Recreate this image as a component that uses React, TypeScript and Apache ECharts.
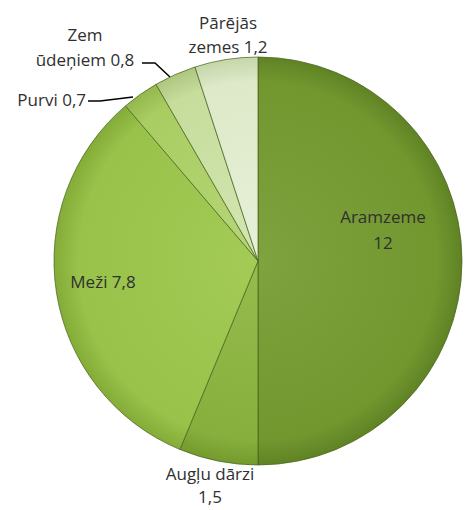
import React, { useEffect, useRef } from "react";
import * as echarts from "echarts";

const categories = ["Aramzeme", "Augļu dārzi", "Meži", "Purvi", "Zem ūdeņiem", "Pārējās zemes"];
const values = [12, 1.5, 7.8, 0.7, 0.8, 1.2];
const labelTexts = ["Aramzeme\n12", "Augļu dārzi\n1,5", "Meži 7,8", "Purvi 0,7", "Zem\nūdeņiem 0,8", "Pārējās\nzemes 1,2"];

const colors = [
  ["#7ea33f", "#72972f", "#5f8324"],
  ["#95bc4c", "#87af3e", "#739a2c"],
  ["#a3cb56", "#98c24a", "#84ac38"],
  ["#b6d678", "#a9cd62", "#94b84c"],
  ["#d3e6b2", "#c6dd9c", "#adc67f"],
  ["#e8f1da", "#dde9c8", "#c6d6aa"],
];

const CX = 258;
const CY = 261;
const R = 204;

const labelPos: any[] = [
  { x: 383, y: 229, align: "center", lh: 26 },
  { x: 210, y: 485, align: "center", lh: 23 },
  { x: 103, y: 281, align: "center", lh: 24 },
  { x: 86, y: 99, align: "right", lh: 24, line: [[133, 97], [100, 101], [88, 101]] },
  { x: 85, y: 47, align: "center", lh: 25, line: [[170, 77], [155, 63], [142, 63]] },
  { x: 228, y: 34, align: "center", lh: 24 },
];

export default function App() {
  const ref = useRef<HTMLDivElement>(null);
  useEffect(() => {
    if (!ref.current) return;
    const chart = echarts.init(ref.current, undefined, { renderer: "svg" });
    const data = categories.map((name, i) => ({
      name,
      value: values[i],
      itemStyle: {
        color: {
          type: "radial",
          x: CX,
          y: CY,
          r: R,
          global: true,
          colorStops: [
            { offset: 0, color: colors[i][0] },
            { offset: 0.88, color: colors[i][1] },
            { offset: 1, color: colors[i][2] },
          ],
        },
      },
      label: {
        position: i === 0 || i === 2 ? "inside" : "outside",
        formatter: labelTexts[i],
        lineHeight: labelPos[i].lh,
      },
      labelLine: { show: !!labelPos[i].line },
    }));
    chart.setOption({
      animation: false,
      backgroundColor: "#ffffff",
      series: [
        {
          type: "pie",
          center: [CX, CY],
          radius: R,
          startAngle: 90,
          clockwise: true,
          avoidLabelOverlap: false,
          data,
          itemStyle: {
            borderColor: "rgba(70,95,25,0.7)",
            borderWidth: 1,
          },
          label: {
            color: "#303030",
            fontFamily: "'Open Sans', Lato, sans-serif",
            fontSize: 17,
          },
          labelLine: {
            lineStyle: { color: "#000000", width: 1.5 },
          },
          emphasis: { disabled: true },
          labelLayout: (params: any) => {
            const p = labelPos[params.dataIndex];
            const res: any = { x: p.x, y: p.y, align: p.align, verticalAlign: "middle" };
            if (p.line) res.labelLinePoints = p.line;
            return res;
          },
        },
      ],
    });
    return () => chart.dispose();
  }, []);
  return (
    <div
      ref={ref}
      style={{ position: "fixed", left: 0, top: 0, width: 472, height: 510 }}
    />
  );
}
